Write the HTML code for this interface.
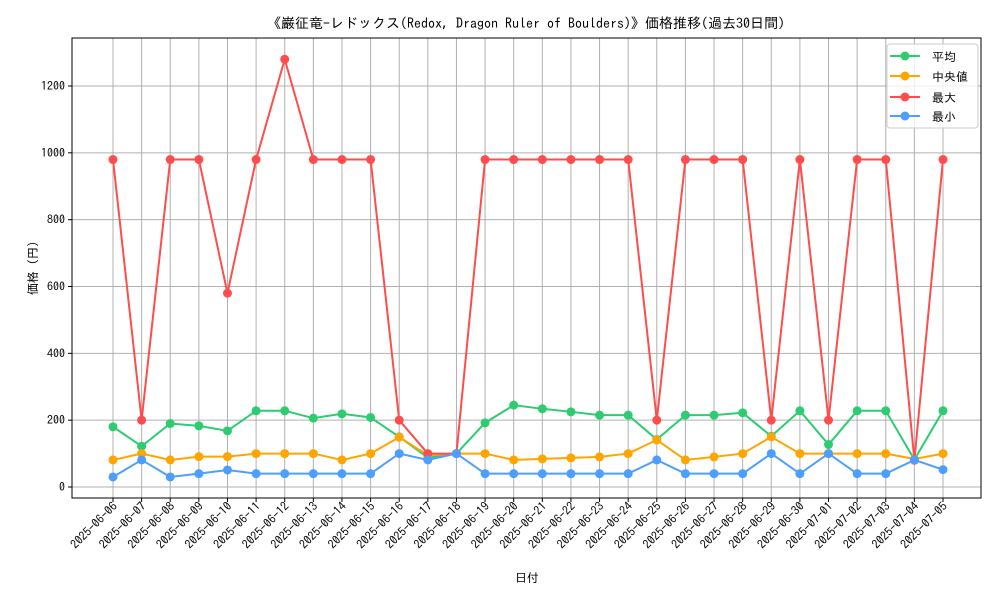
<!DOCTYPE html>
<html><head><meta charset="utf-8"><style>
body{margin:0;background:#fff;}
svg text{font-family:"IPAGothic","Noto Sans CJK JP",monospace;fill:#000;}
</style></head><body>
<svg id="chart" width="1000" height="600" xmlns="http://www.w3.org/2000/svg">
<rect width="1000" height="600" fill="#fff"/>
<text x="526" y="28" font-size="14" text-anchor="middle">《巌征竜-レドックス(Redox, Dragon Ruler of Boulders)》価格推移(過去30日間)</text>
<g id="grid"></g>
<g id="series"></g>
<rect x="72" y="38" width="909" height="460" fill="none" stroke="#000" stroke-width="1"/>
<g id="axes"></g>
<text x="527" y="582" font-size="12" text-anchor="middle">日付</text>
<text transform="translate(37,268) rotate(-90)" font-size="12" text-anchor="middle">価格 (円)</text>
<g>
<rect x="887" y="44" width="91" height="84" rx="3" fill="#fff" fill-opacity="0.8" stroke="#ccc"/>
<g><line x1="890" y1="56" x2="920" y2="56" stroke="#2ecc71" stroke-width="2"/><circle cx="905" cy="56" r="4.5" fill="#2ecc71"/><text x="932" y="61" font-size="12">平均</text></g>
<g><line x1="890" y1="76" x2="920" y2="76" stroke="#ffa500" stroke-width="2"/><circle cx="905" cy="76" r="4.5" fill="#ffa500"/><text x="932" y="81" font-size="12">中央値</text></g>
<g><line x1="890" y1="97" x2="920" y2="97" stroke="#ff4d4d" stroke-width="2"/><circle cx="905" cy="97" r="4.5" fill="#ff4d4d"/><text x="932" y="102" font-size="12">最大</text></g>
<g><line x1="890" y1="116" x2="920" y2="116" stroke="#4d9fff" stroke-width="2"/><circle cx="905" cy="116" r="4.5" fill="#4d9fff"/><text x="932" y="121" font-size="12">最小</text></g>
</g>
</svg>
<script>
const dates=["2025-06-06","2025-06-07","2025-06-08","2025-06-09","2025-06-10","2025-06-11","2025-06-12","2025-06-13","2025-06-14","2025-06-15","2025-06-16","2025-06-17","2025-06-18","2025-06-19","2025-06-20","2025-06-21","2025-06-22","2025-06-23","2025-06-24","2025-06-25","2025-06-26","2025-06-27","2025-06-28","2025-06-29","2025-06-30","2025-07-01","2025-07-02","2025-07-03","2025-07-04","2025-07-05"];
const avgVals=[180,122,190,183,168,228,228,206,219,208,150,88,100,192,245,234,225,215,215,142,215,215,222,152,228,127,228,228,82,228];
const medianVals=[81,100,81,91,91,100,100,100,81,100,149,95,100,100,81,84,87,90,100,141,81,90,100,150,100,100,100,100,84,100];
const maxVals=[980,200,980,980,580,980,1280,980,980,980,200,100,100,980,980,980,980,980,980,200,980,980,980,200,980,200,980,980,80,980];
const minVals=[30,81,30,40,51,40,40,40,40,40,100,81,100,40,40,40,40,40,40,81,40,40,40,100,40,100,40,40,81,52];
const yTicks=[0,200,400,600,800,1000,1200];
const NS="http://www.w3.org/2000/svg";
const xScale=i=>113+i*(943-113)/(dates.length-1);
const yScale=v=>487-v*(401/1200);
function mk(tag,attrs,parent){const e=document.createElementNS(NS,tag);for(const k in attrs)e.setAttribute(k,attrs[k]);parent.appendChild(e);return e;}
const grid=document.getElementById('grid'),axes=document.getElementById('axes'),ser=document.getElementById('series');
yTicks.forEach(t=>{const y=yScale(t);
const g=mk('line',{x1:72,x2:981,y1:y,y2:y,stroke:'#b0b0b0','stroke-width':1},grid);


mk('line',{x1:68,x2:72,y1:y,y2:y,stroke:'#000'},axes);
const tx=mk('text',{x:65,y:y+4,'font-size':12,'text-anchor':'end'},axes);tx.textContent=t;

});
dates.forEach((d,i)=>{const x=xScale(i);
const g=mk('line',{x1:x,x2:x,y1:38,y2:498,stroke:'#b0b0b0','stroke-width':1},grid);


mk('line',{x1:x,x2:x,y1:498,y2:502,stroke:'#000'},axes);
const tx=mk('text',{transform:`translate(${x+5},${507}) rotate(-45)`,'font-size':12,'text-anchor':'end'},axes);tx.textContent=d;

});
const seriesList=[["avg",avgVals,"#2ecc71"],["median",medianVals,"#ffa500"],["max",maxVals,"#ff4d4d"],["min",minVals,"#4d9fff"]];
seriesList.forEach(([n,vals,c])=>{
const g=mk('g',{},ser);


const p=mk('polyline',{points:vals.map((v,i)=>xScale(i)+','+yScale(v)).join(' '),fill:'none',stroke:c,'stroke-width':2},g);


vals.forEach((v,i)=>{const m=mk('circle',{cx:xScale(i),cy:yScale(v),r:4.5,fill:c},g);

});});
</script>
</body></html>
